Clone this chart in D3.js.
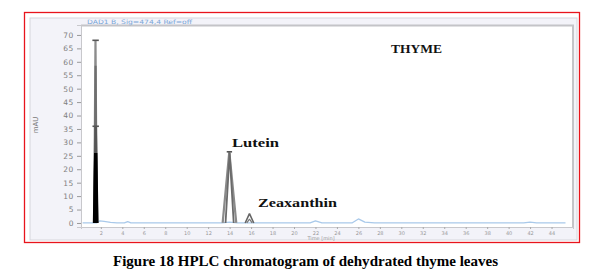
<!DOCTYPE html>
<html>
<head>
<meta charset="utf-8">
<script src="https://cdn.jsdelivr.net/npm/d3@7"></script>
<style>
  body { margin: 0; background: #fff; }
  svg { display: block; }
</style>
</head>
<body>
<script>
// tick values
const yTicks = d3.range(0, 71, 5)
const xTicks = d3.range(2, 45, 2)

// traces, [time (min), mAU]
const baseline = [[0.3, 0], [1.6, 0], [1.9, 0.8], [2.3, 0.6], [2.9, 0.2], [3.5, 0], [4.2, 0], [4.5, 0.5], [4.8, 0],
  [13.3, 0], [14.0, 0.3], [14.7, 0], [21.5, 0], [22.0, 0.8], [22.6, 0], [25.4, 0], [26.0, 1.5], [26.6, 0.3],
  [27.5, 0], [41.4, 0], [42.0, 0.3], [42.6, 0], [45.3, 0]]
const solventA = [[1.38, 0], [1.50, 68], [1.62, 0]]
const solventB = [[1.39, 0], [1.51, 58.5], [1.62, 0]]
const solventC = [[1.39, 0], [1.52, 36], [1.65, 0]]
const solventD = [[1.41, 0], [1.52, 26], [1.63, 0]]
const luteinA = [[13.35, 0], [13.97, 26.5], [14.62, 0]]
const luteinB = [[13.62, 0], [14.0, 26], [14.38, 0]]
const zeaA = [[15.45, 0], [15.85, 3.5], [16.25, 0]]
const zeaB = [[15.6, 0], [15.85, 1.4], [16.1, 0]]

const svg = d3.select(document.body).append('svg')
  .attr('width', 606)
  .attr('height', 275)

const x = d3.scaleLinear().domain([0.15, 46.0]).range([81, 573])
const y = d3.scaleLinear().domain([-1.5, 73.7]).range([227, 25])

// outer panel
svg.append('rect')
  .attr('x', 30).attr('y', 18).attr('width', 547).attr('height', 222)
  .attr('fill', '#f3f3f9')
  .attr('stroke', '#d6d6dc')
  .attr('stroke-width', 1)

// plot area
svg.append('rect')
  .attr('x', 81).attr('y', 25).attr('width', 492).attr('height', 202)
  .attr('fill', '#fff')
svg.append('path')
  .attr('d', 'M81,25.5H573V228')
  .attr('fill', 'none')
  .attr('stroke', '#c4c4c8')
  .attr('stroke-width', 2)

// red frame
svg.append('rect')
  .attr('x', 24.5).attr('y', 12.5).attr('width', 555).attr('height', 230)
  .attr('fill', 'none')
  .attr('stroke', '#e8141c')
  .attr('stroke-width', 1.3)

const gy = svg.append('g')
  .attr('transform', 'translate(81,0)')
  .call(d3.axisLeft(y).tickValues(yTicks).tickSize(4).tickPadding(3))
gy.select('.domain').attr('stroke', '#c8c8cc')
gy.selectAll('line').attr('stroke', '#9a9a9a')
gy.selectAll('text')
  .attr('fill', '#808080')
  .style('font-family', 'DejaVu Sans')
  .style('font-size', '7.5px')
  .style('letter-spacing', '0.6px')

const gx = svg.append('g')
  .attr('transform', 'translate(0,227)')
  .call(d3.axisBottom(x).tickValues(xTicks).tickSize(2).tickPadding(2))
gx.select('.domain').attr('stroke', '#c8c8cc')
gx.selectAll('line').attr('stroke', '#aaa')
gx.selectAll('text')
  .attr('fill', '#999')
  .style('font-family', 'DejaVu Sans')
  .style('font-size', '5px')

const line = d3.line().x(d => x(d[0])).y(d => y(d[1]))

const traces = [
  { data: baseline, color: '#a9c9ea', width: 1.3 },
  { data: solventA, color: '#8c8c8c', width: 2.2 },
  { data: solventB, color: '#6e6e6e', width: 2 },
  { data: solventC, color: '#555', width: 2.4 },
  { data: solventD, color: '#000', width: 3.4 },
  { data: luteinA, color: '#8a8a8a', width: 2.2 },
  { data: luteinB, color: '#6a6a6a', width: 1.8 },
  { data: zeaA, color: '#666', width: 1.6 },
  { data: zeaB, color: '#777', width: 1.2 }
]

svg.append('g').selectAll('path')
  .data(traces)
  .enter()
  .append('path')
  .attr('d', d => line(d.data))
  .attr('fill', 'none')
  .attr('stroke', d => d.color)
  .attr('stroke-width', d => d.width)
  .attr('stroke-linejoin', 'bevel')

// peak caps
svg.append('g').selectAll('line')
  .data([[1.51, 68, 0.3], [1.52, 36, 0.3], [13.98, 26.5, 0.25]])
  .enter()
  .append('line')
  .attr('x1', d => x(d[0] - d[2]))
  .attr('x2', d => x(d[0] + d[2]))
  .attr('y1', d => y(d[1]))
  .attr('y2', d => y(d[1]))
  .attr('stroke', '#555')
  .attr('stroke-width', 1.6)

// texts
svg.append('text')
  .attr('x', 87).attr('y', 23.5)
  .attr('textLength', 105).attr('lengthAdjust', 'spacingAndGlyphs')
  .attr('fill', '#7aa6d8')
  .style('font-family', 'DejaVu Sans')
  .style('font-size', '6px')
  .text('DAD1 B, Sig=474,4 Ref=off')

svg.append('text')
  .attr('transform', 'translate(38,125) rotate(-90)')
  .attr('text-anchor', 'middle')
  .attr('fill', '#777')
  .style('font-family', 'DejaVu Sans')
  .style('font-size', '7px')
  .text('mAU')

svg.append('text')
  .attr('x', 321).attr('y', 239.5)
  .attr('text-anchor', 'middle')
  .attr('fill', '#999')
  .style('font-family', 'DejaVu Sans')
  .style('font-size', '5px')
  .text('Time [min]')

const labels = [
  { text: 'THYME', x: 391, y: 53, len: 51, size: 12 },
  { text: 'Lutein', x: 232, y: 147, len: 47, size: 11.5 },
  { text: 'Zeaxanthin', x: 258, y: 206.5, len: 79, size: 11.5 }
]
svg.append('g').selectAll('text')
  .data(labels)
  .enter()
  .append('text')
  .attr('x', d => d.x)
  .attr('y', d => d.y)
  .attr('textLength', d => d.len)
  .attr('lengthAdjust', 'spacingAndGlyphs')
  .attr('fill', '#111')
  .style('font-family', 'Liberation Serif')
  .style('font-weight', 'bold')
  .style('font-size', d => d.size + 'px')
  .text(d => d.text)

svg.append('text')
  .attr('x', 113).attr('y', 265.5)
  .attr('textLength', 385).attr('lengthAdjust', 'spacingAndGlyphs')
  .attr('fill', '#000')
  .style('font-family', 'Liberation Serif')
  .style('font-weight', 'bold')
  .style('font-size', '14px')
  .text('Figure 18 HPLC chromatogram of dehydrated thyme leaves')
</script>
</body>
</html>
